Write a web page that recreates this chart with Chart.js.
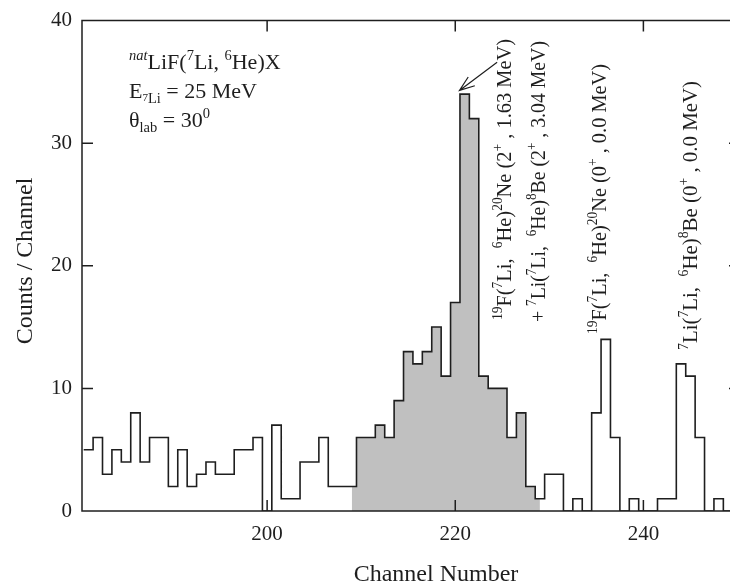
<!DOCTYPE html>
<html>
<head>
<meta charset="utf-8">
<title>Channel spectrum</title>
<script src="https://cdn.jsdelivr.net/npm/chart.js@4.4.1/dist/chart.umd.min.js"></script>
<style>
    html, body { margin: 0; padding: 0; background: #fff; overflow: hidden; }
    #wrap { width: 730px; height: 588px; overflow: hidden; }
</style>
</head>
<body>
<div id="wrap"><canvas id="canvas" width="750" height="588"></canvas></div>
<script>
// counts per channel, one bin per channel number
var channels = [181, 182, 183, 184, 185, 186, 187, 188, 189, 190,
    191, 192, 193, 194, 195, 196, 197, 198, 199, 200,
    201, 202, 203, 204, 205, 206, 207, 208, 209, 210,
    211, 212, 213, 214, 215, 216, 217, 218, 219, 220,
    221, 222, 223, 224, 225, 226, 227, 228, 229, 230,
    231, 232, 233, 234, 235, 236, 237, 238, 239, 240,
    241, 242, 243, 244, 245, 246, 247, 248, 249, 250];
var counts = [5, 6, 3, 5, 4, 8, 4, 6, 6, 2,
    5, 2, 3, 4, 3, 3, 5, 5, 6, 0,
    7, 1, 1, 4, 4, 6, 2, 2, 2, 6,
    6, 7, 6, 9, 13, 12, 13, 15, 11, 17,
    34, 32, 11, 10, 10, 6, 8, 2, 1, 3,
    3, 0, 1, 0, 8, 14, 6, 0, 1, 0,
    0, 1, 1, 12, 11, 6, 0, 1, 0, 0];

// shaded window (channel units)
var shadeFrom = 209;
var shadeTo = 229;

var xTickValues = [200, 220, 240];
var yTickValues = [0, 10, 20, 30, 40];

var FONT = "'Liberation Serif', 'Times New Roman', serif";
var INK = '#1e1e1e';

// histogram outline: a point on the left edge of every bin, plus the closing edge
var histPoints = channels.map(function (c, i) {
    return { x: c - 0.5, y: counts[i] };
});
histPoints.push({ x: channels[channels.length - 1] + 0.5, y: counts[counts.length - 1] });

function countAt(c) {
    return counts[channels.indexOf(Math.round(c))];
}

// same outline clipped to the shaded window
var shadePoints = [{ x: shadeFrom, y: countAt(shadeFrom) }];
channels.forEach(function (c, i) {
    if (c - 0.5 > shadeFrom && c - 0.5 < shadeTo) shadePoints.push({ x: c - 0.5, y: counts[i] });
});
shadePoints.push({ x: shadeTo, y: countAt(shadeTo) });

// rich text: [text, kind] pieces
var kinds = {
    n:    { scale: 1,    dy: 0,     italic: '' },
    sup:  { scale: 0.66, dy: -0.42, italic: '' },
    supi: { scale: 0.66, dy: -0.42, italic: 'italic ' },
    sub:  { scale: 0.66, dy: 0.24,  italic: '' },
    ss:   { scale: 0.5,  dy: 0.12,  italic: '' }
};

function richWidth(ctx, parts, size) {
    var w = 0;
    parts.forEach(function (p) {
        var k = kinds[p[1]];
        ctx.font = k.italic + (size * k.scale) + 'px ' + FONT;
        w += ctx.measureText(p[0]).width;
    });
    return w;
}

function drawRich(ctx, parts, x, y, size) {
    var cx = x;
    parts.forEach(function (p) {
        var k = kinds[p[1]];
        ctx.font = k.italic + (size * k.scale) + 'px ' + FONT;
        ctx.fillText(p[0], cx, y + k.dy * size);
        cx += ctx.measureText(p[0]).width;
    });
}

// vertical label reading upwards, stretched to run from yBottom to yTop
function drawRichUp(ctx, parts, baseX, yTop, yBottom, size) {
    var w = richWidth(ctx, parts, size);
    ctx.save();
    ctx.translate(baseX, yBottom);
    ctx.rotate(-Math.PI / 2);
    ctx.scale((yBottom - yTop) / w, 1);
    drawRich(ctx, parts, 0, 0, size);
    ctx.restore();
}

var peakLabels = [
    { x: 511, top: 39, bottom: 320, parts: [['19', 'sup'], ['F(', 'n'], ['7', 'sup'], ['Li,  ', 'n'], ['6', 'sup'], ['He)', 'n'], ['20', 'sup'], ['Ne (2', 'n'], ['+', 'sup'], [' , 1.63 MeV)', 'n']] },
    { x: 545, top: 41, bottom: 322, parts: [['+ ', 'n'], ['7', 'sup'], ['Li(', 'n'], ['7', 'sup'], ['Li,  ', 'n'], ['6', 'sup'], ['He)', 'n'], ['8', 'sup'], ['Be (2', 'n'], ['+', 'sup'], [' , 3.04 MeV)', 'n']] },
    { x: 606, top: 64, bottom: 334, parts: [['19', 'sup'], ['F(', 'n'], ['7', 'sup'], ['Li,  ', 'n'], ['6', 'sup'], ['He)', 'n'], ['20', 'sup'], ['Ne (0', 'n'], ['+', 'sup'], [' , 0.0 MeV)', 'n']] },
    { x: 697, top: 81, bottom: 350, parts: [['7', 'sup'], ['Li(', 'n'], ['7', 'sup'], ['Li,  ', 'n'], ['6', 'sup'], ['He)', 'n'], ['8', 'sup'], ['Be (0', 'n'], ['+', 'sup'], [' , 0.0 MeV)', 'n']] }
];

var infoLines = [
    { y: 69, parts: [['nat', 'supi'], ['LiF(', 'n'], ['7', 'sup'], ['Li, ', 'n'], ['6', 'sup'], ['He)X', 'n']] },
    { y: 98, parts: [['E', 'n'], ['7', 'ss'], ['Li', 'sub'], [' = 25 MeV', 'n']] },
    { y: 127, parts: [['\u03B8', 'n'], ['lab', 'sub'], [' = 30', 'n'], ['0', 'sup']] }
];

var framePlugin = {
    id: 'frame',
    afterDatasetsDraw: function (chart) {
        var ctx = chart.ctx, a = chart.chartArea;
        var xs = chart.scales.x, ys = chart.scales.y;
        ctx.save();
        ctx.strokeStyle = INK;
        ctx.lineWidth = 1.5;
        ctx.strokeRect(a.left, a.top, a.right - a.left, a.bottom - a.top);

        // inward ticks on all four sides
        ctx.beginPath();
        xTickValues.forEach(function (v) {
            var px = xs.getPixelForValue(v);
            ctx.moveTo(px, a.bottom); ctx.lineTo(px, a.bottom - 11);
            ctx.moveTo(px, a.top); ctx.lineTo(px, a.top + 11);
        });
        yTickValues.forEach(function (v) {
            if (v === ys.min || v === ys.max) return;
            var py = ys.getPixelForValue(v);
            ctx.moveTo(a.left, py); ctx.lineTo(a.left + 11, py);
            ctx.moveTo(a.right, py); ctx.lineTo(a.right - 11, py);
        });
        ctx.stroke();

        // arrow pointing at the main peak
        var tipX = xs.getPixelForValue(220.45), tipY = ys.getPixelForValue(34.3);
        var tailX = xs.getPixelForValue(224.45), tailY = ys.getPixelForValue(36.6);
        var ang = Math.atan2(tipY - tailY, tipX - tailX);
        ctx.lineWidth = 1.2;
        ctx.beginPath();
        ctx.moveTo(tailX, tailY); ctx.lineTo(tipX, tipY);
        ctx.moveTo(tipX - 16 * Math.cos(ang - 0.35), tipY - 16 * Math.sin(ang - 0.35));
        ctx.lineTo(tipX, tipY);
        ctx.lineTo(tipX - 16 * Math.cos(ang + 0.35), tipY - 16 * Math.sin(ang + 0.35));
        ctx.stroke();

        ctx.fillStyle = INK;
        ctx.textBaseline = 'alphabetic';
        ctx.textAlign = 'left';
        infoLines.forEach(function (l) {
            drawRich(ctx, l.parts, 129, l.y, 22);
        });
        peakLabels.forEach(function (l) {
            drawRichUp(ctx, l.parts, l.x, l.top, l.bottom, 21);
        });

        // axis titles
        ctx.font = '24px ' + FONT;
        ctx.textAlign = 'center';
        ctx.fillText('Channel Number', 436, 581);
        ctx.save();
        ctx.translate(32, 261);
        ctx.rotate(-Math.PI / 2);
        ctx.fillText('Counts / Channel', 0, 0);
        ctx.restore();
        ctx.restore();
    }
};

window.onload = function () {
    var ctx = document.getElementById('canvas').getContext('2d');
    window.spectrumChart = new Chart(ctx, {
        type: 'line',
        data: {
            datasets: [{
                label: 'counts',
                data: histPoints,
                stepped: true,
                borderColor: INK,
                borderWidth: 1.6,
                pointRadius: 0,
                fill: false
            }, {
                label: 'shaded',
                data: shadePoints,
                stepped: true,
                borderWidth: 0,
                borderColor: 'rgba(0,0,0,0)',
                backgroundColor: '#c0c0c0',
                pointRadius: 0,
                fill: 'origin'
            }]
        },
        options: {
            responsive: false,
            animation: false,
            devicePixelRatio: 1,
            layout: { padding: { top: 11, right: 10, left: 0, bottom: 0 } },
            plugins: { legend: { display: false }, tooltip: { enabled: false } },
            scales: {
                x: {
                    type: 'linear',
                    min: 180.32,
                    max: 250.27,
                    grid: { display: false, drawTicks: false },
                    border: { display: false },
                    afterBuildTicks: function (scale) {
                        scale.ticks = xTickValues.map(function (v) { return { value: v }; });
                    },
                    afterFit: function (scale) { scale.height = 77; },
                    ticks: { padding: 13, color: INK, maxRotation: 0, font: { family: FONT, size: 21, lineHeight: 1 } }
                },
                y: {
                    min: 0,
                    max: 40,
                    grid: { display: false, drawTicks: false },
                    border: { display: false },
                    afterBuildTicks: function (scale) {
                        scale.ticks = yTickValues.map(function (v) { return { value: v }; });
                    },
                    afterFit: function (scale) { scale.width = 82; },
                    ticks: { padding: 10, color: INK, font: { family: FONT, size: 21, lineHeight: 1 } }
                }
            }
        },
        plugins: [framePlugin]
    });
};
</script>
</body>
</html>
